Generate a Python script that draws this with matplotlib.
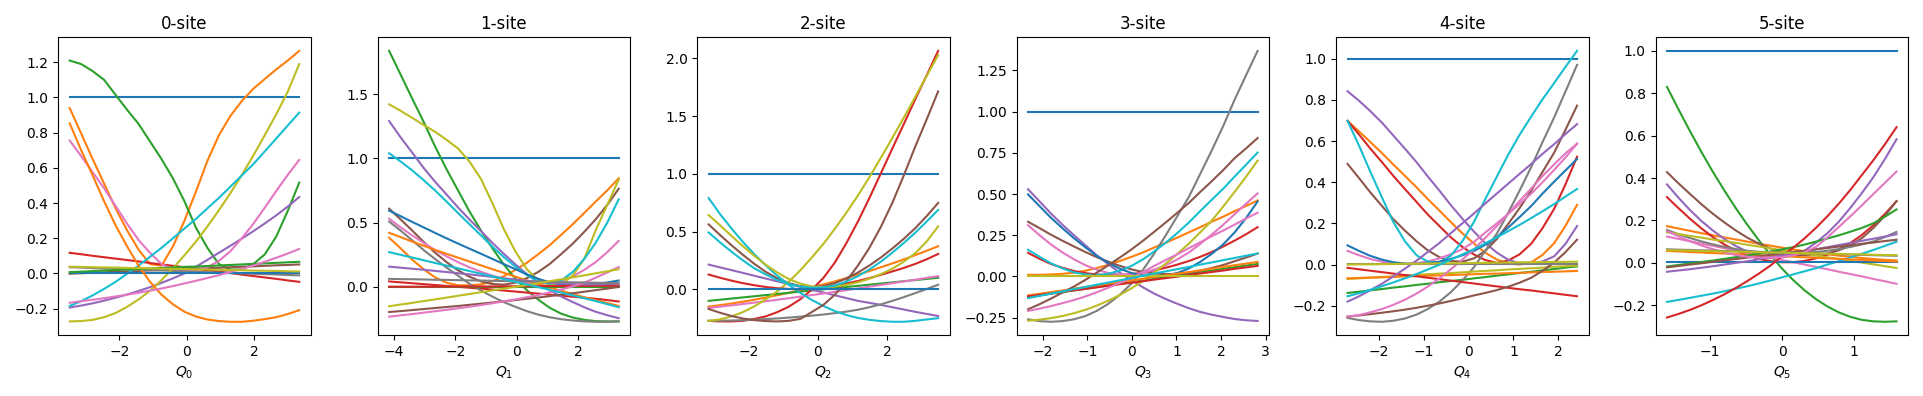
import numpy as np
import matplotlib
matplotlib.use('Agg')
import matplotlib.pyplot as plt

# sample positions along each coordinate
q0 = [-3.47, -3.13, -2.79, -2.45, -2.11, -1.77, -1.43, -1.09, -0.75, -0.41, -0.07,
      0.27, 0.61, 0.95, 1.29, 1.63, 1.97, 2.31, 2.65, 2.99, 3.33]
q1 = [-4.15, -3.78, -3.40, -3.03, -2.66, -2.28, -1.91, -1.54, -1.16, -0.79, -0.42,
      -0.04, 0.33, 0.71, 1.08, 1.45, 1.83, 2.20, 2.57, 2.95, 3.32]
q2 = [-3.15, -2.82, -2.49, -2.16, -1.83, -1.50, -1.17, -0.84, -0.51, -0.18, 0.16,
      0.49, 0.82, 1.15, 1.48, 1.81, 2.14, 2.47, 2.80, 3.13, 3.46]
q3 = [-2.33, -2.07, -1.82, -1.56, -1.30, -1.04, -0.79, -0.53, -0.27, -0.01, 0.25,
      0.50, 0.76, 1.02, 1.28, 1.53, 1.79, 2.05, 2.30, 2.56, 2.82]
q4 = [-2.70, -2.44, -2.19, -1.93, -1.68, -1.42, -1.16, -0.91, -0.65, -0.40, -0.14,
      0.12, 0.37, 0.63, 0.88, 1.14, 1.40, 1.65, 1.91, 2.16, 2.42]
q5 = [-1.60, -1.44, -1.28, -1.12, -0.96, -0.80, -0.64, -0.48, -0.32, -0.16, -0.01,
      0.15, 0.31, 0.47, 0.63, 0.79, 0.95, 1.11, 1.27, 1.43, 1.59]

ONE = [1.0, 1.0, 1.0, 1.0, 1.0, 1.0, 1.0, 1.0, 1.0, 1.0, 1.0,
       1.0, 1.0, 1.0, 1.0, 1.0, 1.0, 1.0, 1.0, 1.0, 1.0]
ZERO = [0.004, 0.004, 0.004, 0.004, 0.004, 0.004, 0.004, 0.004, 0.004, 0.004, 0.004,
        0.004, 0.004, 0.004, 0.004, 0.004, 0.004, 0.004, 0.004, 0.004, 0.004]

site0 = [
    ONE,
    [0.94, 0.795, 0.65, 0.51, 0.37, 0.245, 0.135, 0.053, 0.044, 0.154, 0.30, 0.465, 0.64, 0.785, 0.895, 0.98, 1.05, 1.105, 1.16, 1.21, 1.265],
    [1.21, 1.19, 1.15, 1.10, 1.015, 0.93, 0.85, 0.75, 0.65, 0.54, 0.41, 0.26, 0.145, 0.053, 0.022, 0.022, 0.053, 0.108, 0.21, 0.355, 0.516],
    [0.117, 0.109, 0.1, 0.092, 0.084, 0.076, 0.068, 0.059, 0.051, 0.043, 0.035, 0.026, 0.018, 0.01, 0.002, -0.007, -0.015, -0.023, -0.031, -0.04, -0.048],
    [-0.194, -0.183, -0.17, -0.155, -0.138, -0.12, -0.1, -0.078, -0.054, -0.028, 0.0, 0.038, 0.077, 0.117, 0.157, 0.198, 0.24, 0.284, 0.33, 0.38, 0.434],
    [-0.002, 0.001, 0.003, 0.006, 0.009, 0.011, 0.014, 0.017, 0.019, 0.022, 0.025, 0.027, 0.03, 0.032, 0.035, 0.038, 0.04, 0.043, 0.046, 0.048, 0.051],
    [0.755, 0.667, 0.575, 0.484, 0.383, 0.282, 0.19, 0.117, 0.053, 0.022, 0.011, 0.016, 0.035, 0.071, 0.126, 0.2, 0.282, 0.374, 0.469, 0.56, 0.645],
    [0.035, 0.033, 0.03, 0.028, 0.026, 0.024, 0.021, 0.019, 0.017, 0.014, 0.012, 0.01, 0.007, 0.005, 0.003, 0.0, -0.002, -0.004, -0.006, -0.009, -0.011],
    [-0.273, -0.271, -0.264, -0.249, -0.225, -0.19, -0.148, -0.099, -0.038, 0.029, 0.103, 0.181, 0.267, 0.359, 0.456, 0.56, 0.67, 0.786, 0.905, 1.033, 1.19],
    [-0.185, -0.158, -0.125, -0.088, -0.048, -0.002, 0.044, 0.095, 0.145, 0.2, 0.255, 0.31, 0.37, 0.429, 0.493, 0.557, 0.621, 0.694, 0.767, 0.841, 0.914],
    ZERO,
    [0.853, 0.70, 0.557, 0.41, 0.273, 0.154, 0.044, -0.048, -0.121, -0.176, -0.218, -0.245, -0.262, -0.271, -0.275, -0.275, -0.269, -0.26, -0.249, -0.231, -0.209],
    [0.007, 0.01, 0.013, 0.016, 0.019, 0.022, 0.025, 0.028, 0.031, 0.034, 0.037, 0.039, 0.042, 0.045, 0.048, 0.051, 0.054, 0.057, 0.06, 0.063, 0.066],
    [-0.167, -0.158, -0.15, -0.141, -0.131, -0.121, -0.11, -0.098, -0.086, -0.072, -0.057, -0.042, -0.026, -0.01, 0.008, 0.026, 0.045, 0.066, 0.089, 0.113, 0.139],
    [0.038, 0.037, 0.035, 0.034, 0.033, 0.031, 0.03, 0.029, 0.027, 0.026, 0.025, 0.023, 0.022, 0.02, 0.019, 0.018, 0.016, 0.015, 0.014, 0.012, 0.011],
]
col0 = ['C0', 'C1', 'C2', 'C3', 'C4', 'C5', 'C6', 'C7', 'C8', 'C9',
        'C0', 'C1', 'C2', 'C6', 'C8']

site1 = [
    ONE,
    [0.383, 0.301, 0.213, 0.138, 0.075, 0.033, 0.013, 0.013, 0.02, 0.043, 0.083, 0.133, 0.188, 0.256, 0.326, 0.406, 0.489, 0.576, 0.664, 0.752, 0.845],
    [1.837, 1.654, 1.466, 1.286, 1.095, 0.915, 0.752, 0.589, 0.439, 0.301, 0.175, 0.063, -0.025, -0.1, -0.163, -0.208, -0.238, -0.256, -0.266, -0.268, -0.268],
    [0.043, 0.036, 0.029, 0.022, 0.015, 0.008, 0.001, -0.006, -0.013, -0.02, -0.028, -0.036, -0.044, -0.052, -0.06, -0.068, -0.076, -0.084, -0.092, -0.102, -0.113],
    [1.291, 1.165, 1.045, 0.927, 0.82, 0.719, 0.619, 0.526, 0.434, 0.343, 0.258, 0.175, 0.1, 0.033, -0.025, -0.075, -0.118, -0.158, -0.193, -0.22, -0.243],
    [0.609, 0.526, 0.439, 0.351, 0.268, 0.193, 0.13, 0.08, 0.043, 0.023, 0.018, 0.033, 0.068, 0.118, 0.18, 0.256, 0.338, 0.429, 0.526, 0.639, 0.764],
    [0.531, 0.464, 0.401, 0.343, 0.288, 0.238, 0.193, 0.153, 0.118, 0.088, 0.063, 0.043, 0.03, 0.025, 0.033, 0.05, 0.083, 0.133, 0.193, 0.271, 0.358],
    [0.509, 0.439, 0.363, 0.288, 0.218, 0.15, 0.088, 0.025, -0.028, -0.075, -0.118, -0.155, -0.188, -0.216, -0.236, -0.251, -0.261, -0.268, -0.271, -0.271, -0.268],
    [1.421, 1.371, 1.316, 1.261, 1.208, 1.145, 1.078, 0.977, 0.84, 0.652, 0.451, 0.276, 0.138, 0.05, 0.013, 0.02, 0.09, 0.22, 0.44, 0.64, 0.835],
    [1.04, 0.977, 0.907, 0.832, 0.752, 0.664, 0.576, 0.489, 0.401, 0.313, 0.233, 0.158, 0.093, 0.043, 0.025, 0.05, 0.118, 0.218, 0.343, 0.501, 0.682],
    [0.594, 0.551, 0.506, 0.464, 0.421, 0.378, 0.338, 0.298, 0.258, 0.218, 0.178, 0.138, 0.098, 0.063, 0.035, 0.02, 0.015, 0.018, 0.023, 0.035, 0.05],
    [0.421, 0.388, 0.353, 0.321, 0.288, 0.258, 0.228, 0.198, 0.168, 0.138, 0.11, 0.08, 0.05, 0.023, -0.005, -0.03, -0.055, -0.08, -0.103, -0.125, -0.148],
    [0.0, 0.0, 0.0, 0.0, 0.0, 0.0, 0.0, 0.0, 0.0, 0.0, 0.0, 0.0, 0.0, 0.0, 0.0, 0.0, 0.0, 0.0, 0.0, 0.0, 0.0],
    [0.002, 0.002, 0.002, 0.002, 0.002, 0.003, 0.003, 0.003, 0.004, 0.004, 0.005, 0.005, 0.006, 0.006, 0.007, 0.007, 0.008, 0.008, 0.009, 0.009, 0.01],
    [0.158, 0.15, 0.142, 0.134, 0.125, 0.116, 0.107, 0.098, 0.088, 0.078, 0.068, 0.058, 0.048, 0.04, 0.033, 0.027, 0.022, 0.02, 0.02, 0.022, 0.025],
    [-0.195, -0.188, -0.18, -0.172, -0.164, -0.156, -0.148, -0.139, -0.13, -0.121, -0.112, -0.102, -0.092, -0.082, -0.071, -0.06, -0.049, -0.037, -0.025, -0.013, 0.0],
    [-0.231, -0.221, -0.211, -0.2, -0.189, -0.178, -0.166, -0.154, -0.141, -0.127, -0.112, -0.097, -0.08, -0.062, -0.042, -0.02, 0.005, 0.033, 0.072, 0.113, 0.155],
    [0.063, 0.061, 0.06, 0.058, 0.056, 0.055, 0.053, 0.051, 0.05, 0.048, 0.046, 0.045, 0.043, 0.041, 0.04, 0.038, 0.036, 0.035, 0.033, 0.031, 0.03],
    [-0.15, -0.137, -0.124, -0.11, -0.097, -0.083, -0.069, -0.055, -0.041, -0.027, -0.013, 0.001, 0.015, 0.03, 0.045, 0.06, 0.075, 0.09, 0.106, 0.122, 0.138],
    [0.271, 0.25, 0.229, 0.208, 0.187, 0.166, 0.145, 0.124, 0.103, 0.082, 0.061, 0.04, 0.019, -0.002, -0.023, -0.044, -0.066, -0.088, -0.11, -0.134, -0.158],
]
col1 = ['C0', 'C1', 'C2', 'C3', 'C4', 'C5', 'C6', 'C7', 'C8', 'C9',
        'C0', 'C1', 'C2', 'C3', 'C4', 'C5', 'C6', 'C7', 'C8', 'C9']

site2 = [
    ONE,
    [-0.15, -0.137, -0.123, -0.107, -0.09, -0.071, -0.051, -0.03, -0.007, 0.017, 0.043, 0.069, 0.098, 0.127, 0.158, 0.191, 0.224, 0.259, 0.296, 0.334, 0.373],
    [-0.1, -0.09, -0.08, -0.07, -0.06, -0.05, -0.04, -0.03, -0.02, -0.01, 0.0, 0.01, 0.02, 0.03, 0.04, 0.05, 0.06, 0.07, 0.08, 0.09, 0.1],
    [-0.273, -0.278, -0.278, -0.273, -0.256, -0.234, -0.197, -0.15, -0.086, -0.003, 0.1, 0.234, 0.401, 0.587, 0.79, 1.004, 1.218, 1.43, 1.644, 1.853, 2.064],
    [0.214, 0.19, 0.166, 0.142, 0.117, 0.093, 0.069, 0.045, 0.021, -0.003, -0.028, -0.052, -0.076, -0.1, -0.117, -0.135, -0.155, -0.175, -0.195, -0.213, -0.231],
    [0.562, 0.47, 0.381, 0.298, 0.22, 0.15, 0.095, 0.053, 0.028, 0.019, 0.028, 0.053, 0.095, 0.145, 0.206, 0.275, 0.353, 0.437, 0.529, 0.634, 0.748],
    [-0.161, -0.15, -0.139, -0.127, -0.115, -0.103, -0.09, -0.077, -0.064, -0.05, -0.036, -0.022, -0.007, 0.008, 0.023, 0.038, 0.053, 0.068, 0.083, 0.099, 0.114],
    [-0.273, -0.272, -0.27, -0.267, -0.263, -0.258, -0.252, -0.245, -0.237, -0.228, -0.218, -0.206, -0.193, -0.177, -0.155, -0.13, -0.1, -0.068, -0.033, 0.003, 0.039],
    [-0.273, -0.261, -0.234, -0.197, -0.147, -0.086, -0.017, 0.067, 0.164, 0.275, 0.395, 0.526, 0.665, 0.812, 0.971, 1.138, 1.31, 1.485, 1.666, 1.847, 2.028],
    [0.79, 0.651, 0.526, 0.409, 0.303, 0.206, 0.117, 0.039, -0.031, -0.092, -0.145, -0.189, -0.223, -0.248, -0.264, -0.275, -0.281, -0.281, -0.273, -0.261, -0.25],
    [0.128, 0.1, 0.075, 0.053, 0.035, 0.02, 0.009, 0.003, 0.001, 0.004, 0.014, 0.03, 0.05, 0.072, 0.097, 0.125, 0.155, 0.185, 0.22, 0.26, 0.306],
    [-0.17, -0.203, -0.231, -0.253, -0.267, -0.275, -0.278, -0.273, -0.256, -0.197, -0.134, -0.045, 0.072, 0.206, 0.359, 0.54, 0.748, 0.985, 1.235, 1.471, 1.713],
    [0.643, 0.554, 0.462, 0.373, 0.289, 0.211, 0.145, 0.089, 0.05, 0.025, 0.019, 0.025, 0.039, 0.061, 0.092, 0.131, 0.178, 0.239, 0.312, 0.414, 0.545],
    [0.492, 0.406, 0.325, 0.25, 0.181, 0.128, 0.081, 0.047, 0.025, 0.014, 0.017, 0.033, 0.067, 0.114, 0.172, 0.239, 0.317, 0.401, 0.49, 0.587, 0.687],
    ZERO,
]
col2 = ['C0', 'C1', 'C2', 'C3', 'C4', 'C5', 'C6', 'C7', 'C8', 'C9',
        'C3', 'C5', 'C8', 'C9', 'C0']

site3 = [
    ONE,
    [0.01, 0.01, 0.012, 0.016, 0.023, 0.035, 0.051, 0.07, 0.094, 0.119, 0.146, 0.176, 0.205, 0.236, 0.268, 0.299, 0.332, 0.363, 0.396, 0.428, 0.461],
    [-0.125, -0.115, -0.105, -0.095, -0.085, -0.075, -0.065, -0.055, -0.045, -0.035, -0.025, -0.014, -0.004, 0.006, 0.016, 0.026, 0.036, 0.046, 0.056, 0.066, 0.076],
    [0.143, 0.107, 0.076, 0.053, 0.033, 0.02, 0.012, 0.008, 0.008, 0.014, 0.023, 0.037, 0.053, 0.072, 0.094, 0.119, 0.148, 0.182, 0.217, 0.256, 0.299],
    [0.529, 0.455, 0.383, 0.314, 0.25, 0.188, 0.129, 0.074, 0.023, -0.023, -0.066, -0.104, -0.137, -0.166, -0.193, -0.215, -0.232, -0.246, -0.258, -0.266, -0.27],
    [0.332, 0.293, 0.254, 0.217, 0.182, 0.148, 0.117, 0.09, 0.064, 0.043, 0.027, 0.018, 0.014, 0.016, 0.023, 0.035, 0.051, 0.07, 0.092, 0.115, 0.139],
    [0.311, 0.25, 0.195, 0.146, 0.104, 0.068, 0.041, 0.021, 0.012, 0.012, 0.021, 0.041, 0.068, 0.104, 0.146, 0.197, 0.254, 0.314, 0.377, 0.441, 0.504],
    [-0.26, -0.271, -0.275, -0.271, -0.26, -0.24, -0.209, -0.166, -0.111, -0.043, 0.041, 0.139, 0.25, 0.367, 0.484, 0.621, 0.764, 0.914, 1.07, 1.221, 1.369],
    [-0.268, -0.262, -0.253, -0.24, -0.223, -0.202, -0.177, -0.147, -0.112, -0.072, -0.027, 0.023, 0.078, 0.137, 0.2, 0.267, 0.338, 0.425, 0.512, 0.605, 0.703],
    [0.162, 0.119, 0.08, 0.049, 0.025, 0.012, 0.008, 0.016, 0.035, 0.064, 0.104, 0.152, 0.205, 0.264, 0.328, 0.396, 0.465, 0.533, 0.605, 0.678, 0.752],
    [0.498, 0.426, 0.357, 0.293, 0.232, 0.176, 0.125, 0.082, 0.047, 0.021, 0.006, 0.0, 0.006, 0.021, 0.049, 0.088, 0.137, 0.195, 0.266, 0.354, 0.455],
    [-0.115, -0.105, -0.095, -0.085, -0.074, -0.064, -0.054, -0.044, -0.034, -0.024, -0.014, -0.003, 0.007, 0.017, 0.027, 0.037, 0.047, 0.058, 0.068, 0.078, 0.088],
    [-0.121, -0.112, -0.103, -0.093, -0.084, -0.075, -0.066, -0.056, -0.047, -0.038, -0.029, -0.019, -0.01, -0.001, 0.009, 0.018, 0.027, 0.036, 0.046, 0.055, 0.064],
    [-0.199, -0.168, -0.135, -0.098, -0.061, -0.02, 0.023, 0.068, 0.115, 0.164, 0.217, 0.271, 0.328, 0.387, 0.447, 0.512, 0.578, 0.646, 0.717, 0.777, 0.84],
    [-0.209, -0.195, -0.18, -0.162, -0.143, -0.121, -0.096, -0.068, -0.039, -0.008, 0.027, 0.064, 0.1, 0.135, 0.172, 0.207, 0.244, 0.279, 0.314, 0.352, 0.387],
    ZERO,
    [-0.131, -0.118, -0.104, -0.091, -0.077, -0.064, -0.05, -0.037, -0.023, -0.01, 0.004, 0.018, 0.031, 0.045, 0.058, 0.072, 0.085, 0.099, 0.112, 0.126, 0.139],
]
col3 = ['C0', 'C1', 'C2', 'C3', 'C4', 'C5', 'C6', 'C7', 'C8', 'C9',
        'C0', 'C1', 'C3', 'C5', 'C6', 'C8', 'C9']

site4 = [
    ONE,
    [0.698, 0.646, 0.595, 0.541, 0.486, 0.431, 0.375, 0.318, 0.262, 0.207, 0.152, 0.102, 0.058, 0.024, 0.005, 0.0, 0.011, 0.047, 0.104, 0.187, 0.29],
    [-0.138, -0.132, -0.125, -0.119, -0.112, -0.106, -0.099, -0.093, -0.086, -0.08, -0.074, -0.067, -0.061, -0.054, -0.048, -0.041, -0.035, -0.028, -0.022, -0.015, -0.009],
    [0.698, 0.631, 0.563, 0.497, 0.431, 0.367, 0.304, 0.243, 0.187, 0.133, 0.086, 0.049, 0.022, 0.008, 0.019, 0.05, 0.102, 0.177, 0.271, 0.389, 0.524],
    [0.842, 0.795, 0.745, 0.689, 0.627, 0.563, 0.497, 0.428, 0.359, 0.29, 0.223, 0.16, 0.105, 0.058, 0.024, 0.006, 0.005, 0.015, 0.04, 0.1, 0.187],
    [0.489, 0.419, 0.35, 0.284, 0.221, 0.165, 0.113, 0.069, 0.036, 0.017, 0.014, 0.03, 0.066, 0.124, 0.196, 0.275, 0.36, 0.45, 0.544, 0.654, 0.772],
    [0.066, 0.045, 0.027, 0.014, 0.006, 0.003, 0.006, 0.015, 0.03, 0.05, 0.075, 0.11, 0.155, 0.2, 0.245, 0.295, 0.345, 0.4, 0.46, 0.52, 0.587],
    [-0.259, -0.27, -0.276, -0.278, -0.273, -0.262, -0.243, -0.216, -0.18, -0.135, -0.078, -0.013, 0.066, 0.15, 0.25, 0.36, 0.475, 0.595, 0.715, 0.84, 0.97],
    [-0.07, -0.067, -0.064, -0.06, -0.057, -0.054, -0.05, -0.047, -0.044, -0.041, -0.038, -0.034, -0.031, -0.028, -0.024, -0.021, -0.018, -0.015, -0.011, -0.008, -0.005],
    [0.698, 0.576, 0.45, 0.325, 0.207, 0.113, 0.045, 0.014, 0.011, 0.042, 0.113, 0.207, 0.317, 0.427, 0.532, 0.631, 0.72, 0.803, 0.882, 0.96, 1.038],
    [0.093, 0.066, 0.042, 0.024, 0.011, 0.005, 0.003, 0.006, 0.014, 0.027, 0.045, 0.066, 0.096, 0.133, 0.179, 0.231, 0.285, 0.345, 0.403, 0.457, 0.513],
    [-0.067, -0.065, -0.063, -0.062, -0.06, -0.058, -0.056, -0.054, -0.053, -0.051, -0.049, -0.047, -0.045, -0.044, -0.042, -0.04, -0.038, -0.036, -0.035, -0.033, -0.031],
    [-0.016, -0.023, -0.03, -0.037, -0.044, -0.051, -0.057, -0.064, -0.071, -0.078, -0.085, -0.092, -0.099, -0.106, -0.113, -0.12, -0.126, -0.133, -0.14, -0.147, -0.154],
    [-0.18, -0.154, -0.124, -0.093, -0.058, -0.02, 0.019, 0.061, 0.105, 0.152, 0.2, 0.248, 0.296, 0.345, 0.392, 0.441, 0.489, 0.538, 0.585, 0.634, 0.682],
    [-0.253, -0.247, -0.241, -0.234, -0.227, -0.219, -0.21, -0.2, -0.189, -0.177, -0.164, -0.15, -0.138, -0.124, -0.108, -0.088, -0.064, -0.03, 0.01, 0.06, 0.121],
    [-0.253, -0.245, -0.232, -0.216, -0.196, -0.171, -0.141, -0.107, -0.067, -0.024, 0.024, 0.074, 0.129, 0.187, 0.246, 0.309, 0.37, 0.43, 0.487, 0.54, 0.587],
    ZERO,
    [0.0, 0.001, 0.001, 0.002, 0.003, 0.004, 0.004, 0.005, 0.006, 0.006, 0.007, 0.008, 0.008, 0.009, 0.01, 0.011, 0.011, 0.012, 0.013, 0.013, 0.014],
    [-0.154, -0.139, -0.123, -0.105, -0.087, -0.067, -0.046, -0.024, -0.001, 0.023, 0.049, 0.075, 0.103, 0.132, 0.162, 0.193, 0.226, 0.259, 0.294, 0.33, 0.367],
]
col4 = ['C0', 'C1', 'C2', 'C3', 'C4', 'C5', 'C6', 'C7', 'C8', 'C9',
        'C0', 'C1', 'C3', 'C4', 'C5', 'C6', 'C7', 'C8', 'C9']

site5 = [
    ONE,
    [0.173, 0.162, 0.151, 0.14, 0.13, 0.12, 0.11, 0.1, 0.09, 0.081, 0.072, 0.063, 0.055, 0.047, 0.04, 0.034, 0.028, 0.023, 0.018, 0.014, 0.011],
    [0.83, 0.724, 0.621, 0.522, 0.428, 0.34, 0.256, 0.178, 0.105, 0.036, -0.024, -0.08, -0.129, -0.171, -0.206, -0.234, -0.255, -0.269, -0.276, -0.278, -0.276],
    [0.31, 0.258, 0.208, 0.162, 0.121, 0.086, 0.058, 0.035, 0.018, 0.008, 0.003, 0.003, 0.009, 0.021, 0.039, 0.064, 0.094, 0.132, 0.178, 0.231, 0.291],
    [0.37, 0.307, 0.249, 0.197, 0.152, 0.112, 0.079, 0.052, 0.033, 0.024, 0.025, 0.036, 0.057, 0.095, 0.14, 0.195, 0.26, 0.33, 0.405, 0.49, 0.583],
    [0.428, 0.375, 0.325, 0.276, 0.231, 0.19, 0.152, 0.118, 0.09, 0.067, 0.05, 0.039, 0.035, 0.036, 0.044, 0.059, 0.082, 0.117, 0.165, 0.223, 0.291],
    [0.124, 0.113, 0.102, 0.091, 0.08, 0.069, 0.058, 0.047, 0.036, 0.025, 0.014, 0.003, -0.008, -0.019, -0.03, -0.042, -0.053, -0.064, -0.076, -0.087, -0.099],
    [0.155, 0.135, 0.117, 0.101, 0.087, 0.075, 0.065, 0.057, 0.051, 0.047, 0.045, 0.045, 0.047, 0.051, 0.057, 0.065, 0.075, 0.087, 0.101, 0.122, 0.146],
    [0.144, 0.136, 0.127, 0.119, 0.11, 0.102, 0.094, 0.085, 0.077, 0.068, 0.06, 0.052, 0.043, 0.035, 0.026, 0.018, 0.01, 0.001, -0.007, -0.016, -0.024],
    [-0.184, -0.175, -0.165, -0.155, -0.145, -0.134, -0.122, -0.11, -0.097, -0.083, -0.069, -0.055, -0.04, -0.025, -0.008, 0.008, 0.025, 0.043, 0.061, 0.08, 0.1],
    ZERO,
    [0.056, 0.054, 0.051, 0.049, 0.046, 0.044, 0.041, 0.039, 0.036, 0.034, 0.031, 0.029, 0.026, 0.024, 0.021, 0.019, 0.016, 0.014, 0.011, 0.009, 0.006],
    [-0.017, -0.01, -0.003, 0.004, 0.011, 0.019, 0.027, 0.035, 0.044, 0.053, 0.063, 0.074, 0.086, 0.1, 0.115, 0.13, 0.147, 0.165, 0.187, 0.218, 0.252],
    [-0.258, -0.241, -0.222, -0.2, -0.175, -0.148, -0.118, -0.085, -0.05, -0.012, 0.028, 0.07, 0.115, 0.165, 0.22, 0.28, 0.345, 0.415, 0.485, 0.56, 0.64],
    [-0.042, -0.036, -0.03, -0.023, -0.016, -0.008, 0.0, 0.008, 0.017, 0.026, 0.035, 0.044, 0.054, 0.064, 0.074, 0.084, 0.094, 0.104, 0.114, 0.124, 0.135],
    [-0.021, -0.015, -0.008, -0.002, 0.005, 0.012, 0.018, 0.025, 0.031, 0.038, 0.044, 0.051, 0.057, 0.064, 0.07, 0.077, 0.083, 0.09, 0.096, 0.103, 0.109],
    [0.15, 0.125, 0.102, 0.082, 0.064, 0.049, 0.037, 0.029, 0.025, 0.025, 0.027, 0.035, 0.05, 0.075, 0.12, 0.17, 0.22, 0.272, 0.325, 0.378, 0.431],
    [0.064, 0.062, 0.061, 0.059, 0.058, 0.056, 0.055, 0.053, 0.052, 0.05, 0.049, 0.047, 0.045, 0.044, 0.042, 0.041, 0.039, 0.038, 0.036, 0.035, 0.033],
    [0.06, 0.059, 0.058, 0.056, 0.055, 0.054, 0.053, 0.052, 0.05, 0.049, 0.048, 0.047, 0.046, 0.044, 0.043, 0.042, 0.041, 0.04, 0.038, 0.037, 0.036],
]
col5 = ['C0', 'C1', 'C2', 'C3', 'C4', 'C5', 'C6', 'C7', 'C8', 'C9',
        'C0', 'C1', 'C2', 'C3', 'C4', 'C5', 'C6', 'C7', 'C8']

grids = [q0, q1, q2, q3, q4, q5]
sites = [site0, site1, site2, site3, site4, site5]
colors = [col0, col1, col2, col3, col4, col5]

fig, axes = plt.subplots(1, 6, figsize=(19.23, 3.96))
for i, ax in enumerate(axes):
    q = np.array(grids[i])
    for ys, c in zip(sites[i], colors[i]):
        ax.plot(q, ys, color=c)
    ax.set_title(f'{i}-site')
    ax.set_xlabel(f'$Q_{i}$')

fig.tight_layout()
fig.savefig('out.png', dpi=100)
